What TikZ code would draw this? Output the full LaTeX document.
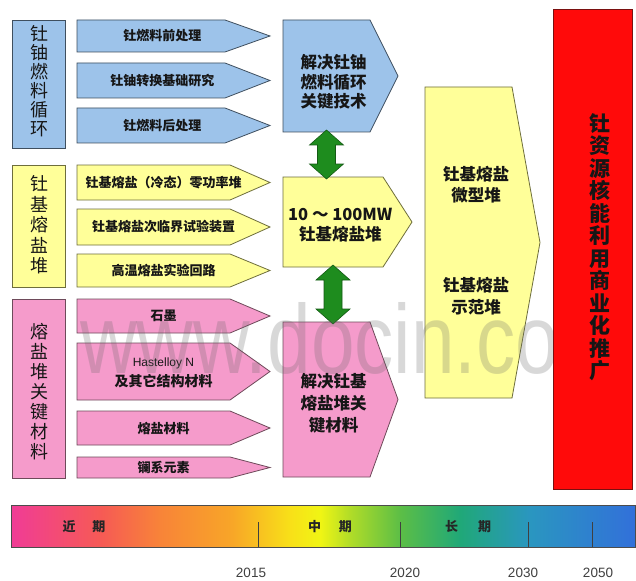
\documentclass[tikz,border=0pt]{standalone}
\usepackage{fontspec}
\setmainfont{Noto Sans CJK SC}
\newfontfamily\latinsans{Liberation Sans}
\usetikzlibrary{calc}
\definecolor{bluef}{HTML}{9DC3EA}
\definecolor{blued}{HTML}{3F4F5F}
\definecolor{yelf}{HTML}{FFFF99}
\definecolor{yeld}{HTML}{6E6E3C}
\definecolor{pinkf}{HTML}{F59BCB}
\definecolor{pinkd}{HTML}{6E4A5A}
\definecolor{redf}{HTML}{FF0A0A}
\definecolor{redd}{HTML}{7A1010}
\definecolor{gfill}{HTML}{1E8C1E}
\definecolor{gdraw}{HTML}{145A14}
\definecolor{txt}{HTML}{161616}
\definecolor{t0}{HTML}{F03C96}
\definecolor{t1}{HTML}{F65A55}
\definecolor{t2}{HTML}{F88438}
\definecolor{t3}{HTML}{F8A528}
\definecolor{t4}{HTML}{F8E018}
\definecolor{t5}{HTML}{F0F514}
\definecolor{t6}{HTML}{B0DC28}
\definecolor{t7}{HTML}{5CBE46}
\definecolor{t8}{HTML}{20A878}
\definecolor{t9}{HTML}{2A96C0}
\definecolor{t10}{HTML}{3270DA}
\pgfdeclarehorizontalshading{timeline}{100bp}{color(0bp)=(t0); color(25bp)=(t0); color(32.19bp)=(t1); color(36.98bp)=(t2); color(42.57bp)=(t3); color(47.36bp)=(t4); color(49.76bp)=(t5); color(52.16bp)=(t6); color(56.15bp)=(t7); color(60.94bp)=(t8); color(66.53bp)=(t9); color(75bp)=(t10); color(100bp)=(t10)}
% name, x1, y1, xs, xt, y2, box style, node options, text
\newcommand\arrbox[9]{%
  \draw[#7] (#2,#3) -- (#4,#3) -- (#5,{(#3+#6)/2}) -- (#4,#6) -- (#2,#6) -- cycle;
  \coordinate (#1-n) at ({(#2+#4)/2},#3);
  \coordinate (#1-s) at ({(#2+#4)/2},#6);
  \node[boxtxt,#8] (#1) at ({(#2+(#4+#5)/2)/2},{(#3+#6)/2}) {#9};
}
\newcommand\greenlink[2]{%
  \filldraw[fill=gfill, draw=gdraw, line width=0.6pt] let \p1=(#1), \p2=(#2) in
    (\x1,\y1+2pt) -- (\x1+17pt,\y1-13pt) -- (\x1+9pt,\y1-13pt) -- (\x1+9pt,\y2+13pt)
    -- (\x1+17pt,\y2+13pt) -- (\x1,\y2-2pt) -- (\x1-17pt,\y2+13pt) -- (\x1-9pt,\y2+13pt)
    -- (\x1-9pt,\y1-13pt) -- (\x1-17pt,\y1-13pt) -- cycle;
}
\begin{document}
\begin{tikzpicture}[x=1pt,y=-1pt,
  bluebox/.style={fill=bluef, draw=blued, line width=0.8pt},
  yelbox/.style={fill=yelf, draw=yeld, line width=0.8pt},
  pinkbox/.style={fill=pinkf, draw=pinkd, line width=0.8pt},
  boxtxt/.style={font=\bfseries\fontsize{13}{15}\selectfont, text=txt, inner sep=0pt, align=center},
  coltxt/.style={font=\fontsize{18}{19}\selectfont, text=txt, align=center, inner sep=0pt},
  colbox/.style={line width=0.8pt, inner sep=0pt},
  tick/.style={draw=black!75, line width=0.7pt},
  phase/.style={font=\bfseries\fontsize{13}{15}\selectfont, text=black!85, inner sep=0pt},
  year/.style={font=\latinsans\fontsize{13.5}{15}\selectfont, text=black!75, inner sep=0pt}]
\useasboundingbox (0,0) rectangle (636,580);
\fill[white] (0,0) rectangle (636,580);

% left column boxes
\node[colbox, bluebox, minimum width=53pt, minimum height=128pt] (c1) at (38.5,84) {};
\node[coltxt] (c1t) at (39,81) {钍\\铀\\燃\\料\\循\\环};
\node[colbox, yelbox, minimum width=53pt, minimum height=122pt] (c2) at (38.5,226) {};
\node[coltxt, font=\fontsize{18}{20.5}\selectfont] (c2t) at (39,225) {钍\\基\\熔\\盐\\堆};
\node[colbox, pinkbox, minimum width=53pt, minimum height=179pt] (c3) at (38.5,388.5) {};
\node[coltxt, font=\fontsize{18}{20}\selectfont] (c3t) at (39,392) {熔\\盐\\堆\\关\\键\\材\\料};

% left arrows
\arrbox{a1}{77}{20}{225}{270}{52}{bluebox}{}{钍燃料前处理}
\arrbox{a2}{77}{63}{225}{270}{98}{bluebox}{}{钍铀转换基础研究}
\arrbox{a3}{77}{108}{225}{270}{143}{bluebox}{}{钍燃料后处理}
\arrbox{a4}{77}{165}{230}{270}{200}{yelbox}{}{钍基熔盐（冷态）零功率堆}
\arrbox{a5}{77}{209}{230}{270}{245}{yelbox}{}{钍基熔盐次临界试验装置}
\arrbox{a6}{77}{254}{230}{270}{287}{yelbox}{}{高温熔盐实验回路}
\arrbox{a7}{77}{299}{230}{270}{333}{pinkbox}{}{石墨}
\arrbox{a8}{77}{343}{230}{270}{400}{pinkbox}{yshift=-1pt}{{\latinsans\mdseries\fontsize{12}{14}\selectfont Hastelloy N}\\[5pt]{\fontsize{14}{15}\selectfont 及其它结构材料}}
\arrbox{a9}{77}{411}{230}{270}{445}{pinkbox}{}{熔盐材料}
\arrbox{a10}{77}{457}{230}{270}{478}{pinkbox}{}{镧系元素}

% middle column
\arrbox{m1}{283}{20}{370}{398}{132}{bluebox}{yshift=-6pt, font=\bfseries\fontsize{16.5}{19.5}\selectfont}{解决钍铀\\燃料循环\\关键技术}
\arrbox{m2}{283}{177}{383}{412}{267}{yelbox}{yshift=-3pt, font=\bfseries\fontsize{16.5}{19}\selectfont}{10 ～ 100MW\\[1pt]钍基熔盐堆}
\arrbox{m3}{283}{322}{370}{398}{477}{pinkbox}{yshift=-4pt, font=\bfseries\fontsize{16.5}{22}\selectfont}{解决钍基\\熔盐堆关\\键材料}
\greenlink{m1-s}{m2-n}
\greenlink{m2-s}{m3-n}

% big yellow arrow
\draw[yelbox] (425,87) -- (512,87) -- (540,242.5) -- (512,398) -- (425,398) -- cycle;
\node[boxtxt, font=\bfseries\fontsize{16.5}{21}\selectfont] (b1) at (476,185) {钍基熔盐\\微型堆};
\node[boxtxt, font=\bfseries\fontsize{16.5}{22}\selectfont] (b2) at (476,296) {钍基熔盐\\示范堆};

% watermark
\node[anchor=base west, inner sep=0pt, xscale=0.8, text=black!60, text opacity=0.25,
      font=\latinsans\fontsize{98}{98}\selectfont] (wm) at (80,373) {www.docin.com};

% red box
\node[colbox, fill=redf, draw=redd, minimum width=79pt, minimum height=480pt] (red) at (592.5,249) {};
\node[coltxt, font=\bfseries\fontsize{21}{22.5}\selectfont] (redt) at (600,247)
  {钍\\资\\源\\核\\能\\利\\用\\商\\业\\化\\推\\广};

% timeline
\shadedraw[shading=timeline, draw=black!70, line width=0.8pt] (11,505) rectangle (635.6,547);
\coordinate (k1t) at (258,522); \coordinate (k1b) at (258,547);
\coordinate (k2t) at (400,522); \coordinate (k2b) at (400,547);
\coordinate (k3t) at (528,522); \coordinate (k3b) at (528,547);
\coordinate (k4t) at (592,522); \coordinate (k4b) at (592,547);
\draw[tick] (k1t) -- (k1b);
\draw[tick] (k2t) -- (k2b);
\draw[tick] (k3t) -- (k3b);
\draw[tick] (k4t) -- (k4b);
\node[phase] (p1) at (84,527) {近\hspace{17pt}期};
\node[phase] (p2) at (330,527) {中\hspace{18pt}期};
\node[phase] (p3) at (468,527) {长\hspace{20pt}期};
\node[year] (y1) at (251,573) {2015};
\node[year] (y2) at (405,573) {2020};
\node[year] (y3) at (523,573) {2030};
\node[year] (y4) at (598,573) {2050};
\end{tikzpicture}
\end{document}
